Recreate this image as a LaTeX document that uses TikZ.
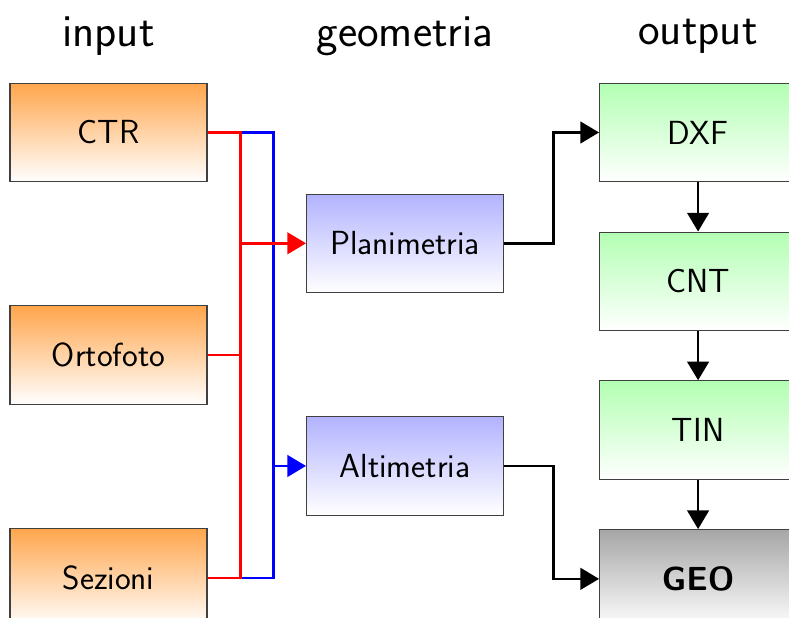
\documentclass[tikz,border=0pt]{standalone}
\usepackage{tikz}
\usetikzlibrary{positioning}
\usetikzlibrary{arrows.meta}
\usetikzlibrary{calc}

\begin{document}
\begin{tikzpicture}[
        box/.style={rectangle,draw=black!75,line width=0.6pt,minimum width=4cm,minimum height=2cm,inner sep=0pt,font=\sffamily\fontsize{19.3}{23}\selectfont},
        inbox/.style={box,top color=orange!70,bottom color=white},
        geobox/.style={box,top color=blue!30,bottom color=white},
        outbox/.style={box,top color=green!30,bottom color=white},
        title/.style={font=\sffamily\fontsize{26.5}{30}\selectfont},
        link/.style={line width=1.4pt,-{Triangle[length=3.8mm,width=4.4mm]}},
        bus/.style={line width=1.4pt},
        node distance=2.5cm]
        \useasboundingbox (-2.203,2.690) rectangle (13.817,-9.858);

        \node[inbox] (ctr) {CTR};
        \node[inbox,below=of ctr] (orto) {Ortofoto};
        \node[inbox,below=of orto] (sez) {Sezioni};

        \node[geobox,right=2cm of ctr,yshift=-2.25cm] (plan) {Planimetria};
        \node[geobox,below=of plan] (alti) {Altimetria};

        \node[outbox,right=7.95cm of ctr] (dxf) {DXF};
        \node[outbox,below=1cm of dxf] (cnt) {CNT};
        \node[outbox,below=1cm of cnt] (tin) {TIN};
        \node[box,top color=black!35,bottom color=white,below=1cm of tin] (geo) {\bfseries GEO};

        \node[title,above=0.42cm of ctr.north] (tinput) {input};
        \node[title] at (plan |- tinput) (tgeo) {geometria};
        \node[title] at (dxf |- tinput) (tout) {output};

        % altimetria: blue bus
        \coordinate (bb) at ($(ctr.east)+(1.34,0)$);
        \draw[bus,blue] (ctr.east) -- (bb) |- (sez.east);
        \draw[link,blue] (bb |- alti.west) -- (alti.west);

        % planimetria: red bus
        \coordinate (rb) at ($(ctr.east)+(0.67,0)$);
        \draw[bus,red] (ctr.east) -- (rb) |- (sez.east);
        \draw[bus,red] (orto.east) -- (rb |- orto.east);
        \draw[link,red] (rb |- plan.west) -- (plan.west);

        \draw[link] (plan.east) -- ++(1,0) |- (dxf.west);
        \draw[link] (alti.east) -- ++(1,0) |- (geo.west);

        \draw[link] (dxf) -- (cnt);
        \draw[link] (cnt) -- (tin);
        \draw[link] (tin) -- (geo);
\end{tikzpicture}
\end{document}
